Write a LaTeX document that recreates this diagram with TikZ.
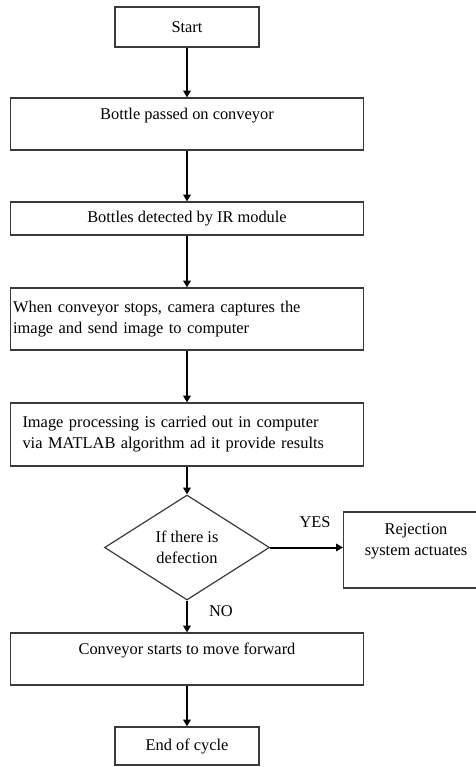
\documentclass[tikz,border=0pt]{standalone}
\usepackage{fontspec}
\setmainfont{Liberation Serif}
\usetikzlibrary{arrows.meta, positioning, shapes.geometric}
\definecolor{cline}{HTML}{3A3A3A}
\tikzset{
  every picture/.style={font=\fontsize{12.3}{15.75}\selectfont, line width=0.9pt},
  box/.style={draw=cline, align=center, inner sep=2pt, minimum width=264.75pt},
  arrow/.style={-{Triangle[length=5pt, width=5.5pt]}, draw=black, line width=1.5pt},
  lab/.style={inner sep=1pt},
}
\begin{document}
\begin{tikzpicture}[x=0.75pt, y=-0.75pt,
  term/.style={box, minimum width=108pt},
  decision/.style={draw=cline, diamond, align=center, inner sep=0pt, minimum width=123.75pt, minimum height=78.75pt}]
  \useasboundingbox (0,0) rectangle (475,767);
  \node[term, minimum height=30pt] (start) at (187,27) {Start};
  \node[box, minimum height=39pt] (pass) at (187,124) {Bottle passed on conveyor\\\mbox{}};
  \node[box, minimum height=24.75pt] (detect) at (187,218.5) {Bottles detected by IR module};
  \node[box, minimum height=46.5pt, text width=260.75pt, align=left, inner xsep=2pt] (capture) at (187,319)
    {When conveyor stops, camera captures the\\image and send image to computer};
  \node[box, minimum height=47.25pt, text width=246.75pt, align=left, inner xsep=9pt] (process) at (187,434.5)
    {Image processing is carried out in computer\\via MATLAB algorithm ad it provide results};
  \node[decision] (defect) at (187,547.5) {If there is\\defection};
  \node[box, minimum width=108.75pt, minimum height=57pt] (reject) at (416,550) {Rejection\\system actuates\\\mbox{}};
  \node[box, minimum height=39pt] (move) at (187,659) {Conveyor starts to move forward\\\mbox{}};
  \node[term, minimum height=28.5pt] (stop) at (187,746) {End of cycle};
  \draw[arrow] (start) -- (pass);
  \draw[arrow] (pass) -- (detect);
  \draw[arrow] (detect) -- (capture);
  \draw[arrow] (capture) -- (process);
  \draw[arrow] (process) -- (defect);
  \draw[arrow] (defect.east) -- (reject.west |- defect.east);
  \draw[arrow] (defect) -- (move);
  \draw[arrow] (move) -- (stop);
  \node[lab] (yes) at (315,522) {YES};
  \node[lab] (no) at (221,611) {NO};
\end{tikzpicture}
\end{document}
